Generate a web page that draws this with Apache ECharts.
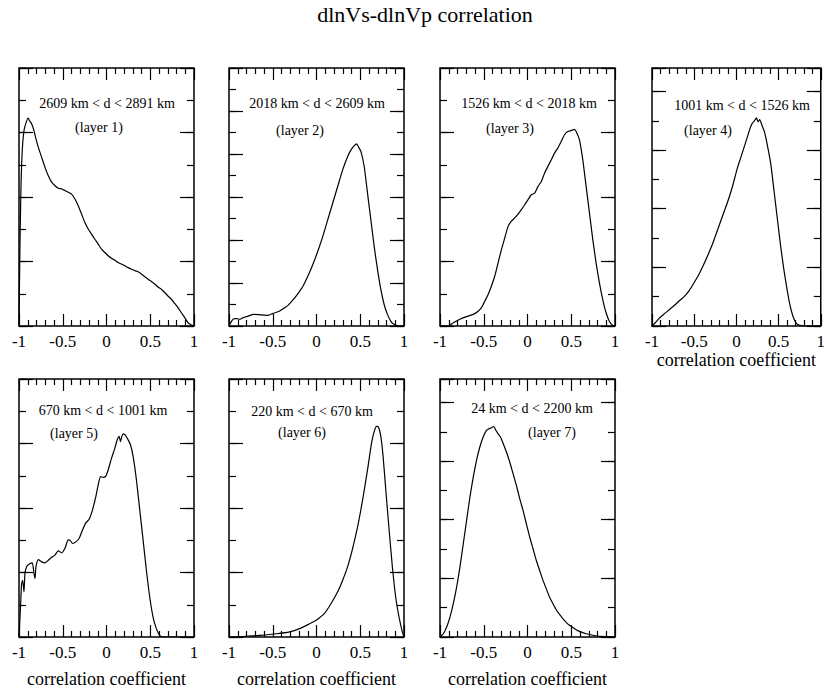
<!DOCTYPE html>
<html>
<head>
<meta charset="utf-8">
<script src="https://cdn.jsdelivr.net/npm/echarts@6/dist/echarts.min.js"></script>
<style>
  html, body { margin: 0; padding: 0; background: #fff; }
  #chart { width: 828px; height: 691px; }
</style>
</head>
<body>
<div id="chart"></div>
<script>
// Distribution of the dlnVs-dlnVp correlation coefficient, one curve per depth layer.
// Each point: [correlation coefficient, relative frequency (arbitrary units)].
const layer1 = [[-1,0],[-0.989,2.49],[-0.977,4.35],[-0.962,5.49],[-0.943,6.06],[-0.92,6.3],[-0.894,6.45],[-0.882,6.37],[-0.867,6.32],[-0.848,6.22],[-0.829,6.06],[-0.806,5.8],[-0.779,5.54],[-0.741,5.23],[-0.703,4.92],[-0.665,4.66],[-0.627,4.46],[-0.589,4.35],[-0.551,4.27],[-0.513,4.25],[-0.475,4.2],[-0.437,4.15],[-0.399,4.09],[-0.361,3.94],[-0.323,3.73],[-0.285,3.47],[-0.247,3.21],[-0.209,3.01],[-0.171,2.85],[-0.133,2.69],[-0.095,2.54],[-0.057,2.38],[-0.019,2.28],[0.019,2.18],[0.057,2.1],[0.095,2.04],[0.133,1.97],[0.171,1.92],[0.209,1.87],[0.247,1.81],[0.285,1.76],[0.323,1.72],[0.361,1.68],[0.399,1.61],[0.437,1.53],[0.475,1.45],[0.513,1.38],[0.551,1.3],[0.589,1.21],[0.627,1.14],[0.665,1.04],[0.703,0.93],[0.741,0.83],[0.779,0.7],[0.817,0.57],[0.856,0.41],[0.894,0.26],[0.932,0.1],[0.97,0.03],[1,0]];
const layer2 = [[-1,0],[-0.97,0.23],[-0.943,0.34],[-0.913,0.34],[-0.875,0.31],[-0.837,0.39],[-0.78,0.46],[-0.723,0.54],[-0.667,0.53],[-0.61,0.51],[-0.553,0.49],[-0.496,0.59],[-0.439,0.66],[-0.383,0.8],[-0.326,0.96],[-0.269,1.21],[-0.212,1.51],[-0.155,1.85],[-0.098,2.32],[-0.042,2.86],[0.015,3.48],[0.072,4.17],[0.129,4.95],[0.186,5.72],[0.242,6.49],[0.299,7.26],[0.356,7.88],[0.394,8.19],[0.432,8.39],[0.458,8.47],[0.477,8.35],[0.508,8.11],[0.545,7.42],[0.583,6.18],[0.621,4.95],[0.659,3.71],[0.697,2.63],[0.735,1.7],[0.773,1.0],[0.811,0.54],[0.848,0.23],[0.886,0.08],[0.943,0],[1,0]];
const layer3 = [[-1,0],[-0.905,0],[-0.848,0.1],[-0.772,0.21],[-0.696,0.29],[-0.62,0.36],[-0.564,0.46],[-0.526,0.57],[-0.488,0.77],[-0.45,0.98],[-0.412,1.24],[-0.374,1.55],[-0.336,1.96],[-0.298,2.37],[-0.26,2.73],[-0.222,3.09],[-0.184,3.25],[-0.146,3.35],[-0.108,3.47],[-0.07,3.61],[-0.032,3.76],[0.006,3.92],[0.044,4.07],[0.082,4.12],[0.12,4.33],[0.158,4.48],[0.195,4.74],[0.233,4.95],[0.271,5.15],[0.309,5.36],[0.347,5.52],[0.385,5.72],[0.423,5.93],[0.461,6.03],[0.499,6.06],[0.537,6.1],[0.556,6.03],[0.594,5.77],[0.632,5.15],[0.67,4.33],[0.708,3.51],[0.746,2.68],[0.784,1.96],[0.822,1.34],[0.86,0.82],[0.898,0.41],[0.935,0.15],[0.973,0.02],[1,0]];
const layer4 = [[-1,0],[-0.962,0.11],[-0.905,0.29],[-0.848,0.43],[-0.79,0.57],[-0.733,0.71],[-0.676,0.86],[-0.619,1.0],[-0.562,1.2],[-0.505,1.46],[-0.448,1.74],[-0.39,2.08],[-0.333,2.45],[-0.276,2.85],[-0.219,3.31],[-0.162,3.77],[-0.105,4.22],[-0.048,4.74],[0.01,5.37],[0.048,5.71],[0.086,6.05],[0.124,6.39],[0.162,6.74],[0.188,6.91],[0.219,7.02],[0.238,7.1],[0.257,6.96],[0.276,7.04],[0.303,6.85],[0.333,6.62],[0.371,6.11],[0.41,5.48],[0.448,4.57],[0.486,3.65],[0.524,2.74],[0.562,1.94],[0.6,1.26],[0.638,0.68],[0.676,0.29],[0.714,0.08],[0.752,0.02],[0.81,0],[1,0]];
const layer5 = [[-1,0],[-0.981,1.04],[-0.97,1.66],[-0.958,1.76],[-0.943,1.4],[-0.932,1.97],[-0.913,2.18],[-0.882,2.26],[-0.848,2.3],[-0.829,1.97],[-0.817,1.81],[-0.806,2.18],[-0.779,2.4],[-0.741,2.33],[-0.703,2.3],[-0.665,2.38],[-0.627,2.47],[-0.589,2.54],[-0.551,2.67],[-0.513,2.61],[-0.475,2.75],[-0.437,3.01],[-0.411,2.98],[-0.388,2.9],[-0.35,2.95],[-0.312,3.06],[-0.274,3.32],[-0.236,3.54],[-0.198,3.65],[-0.16,3.94],[-0.122,4.35],[-0.095,4.72],[-0.068,4.97],[-0.038,4.95],[-0.008,4.99],[0.019,5.18],[0.057,5.54],[0.095,5.85],[0.122,6.11],[0.144,6.22],[0.16,6.06],[0.175,6.22],[0.19,6.3],[0.213,6.27],[0.236,6.17],[0.274,5.96],[0.304,5.6],[0.342,4.87],[0.38,3.94],[0.418,3.01],[0.456,2.07],[0.494,1.24],[0.532,0.62],[0.57,0.26],[0.608,0.05],[0.646,0],[1,0]];
const layer6 = [[-1,0],[-0.837,0.01],[-0.648,0.05],[-0.458,0.1],[-0.307,0.16],[-0.193,0.26],[-0.08,0.41],[-0.004,0.52],[0.091,0.73],[0.167,1.04],[0.242,1.4],[0.299,1.76],[0.356,2.18],[0.413,2.75],[0.47,3.42],[0.527,4.25],[0.583,5.18],[0.629,6.01],[0.659,6.37],[0.686,6.53],[0.708,6.51],[0.735,6.22],[0.761,5.6],[0.792,4.56],[0.83,3.32],[0.867,2.18],[0.905,1.24],[0.943,0.62],[0.981,0.16],[1,0]];
const layer7 = [[-1,0],[-0.962,0.11],[-0.924,0.34],[-0.886,0.68],[-0.848,1.14],[-0.81,1.7],[-0.772,2.39],[-0.734,3.18],[-0.696,3.98],[-0.658,4.77],[-0.62,5.45],[-0.583,6.02],[-0.545,6.48],[-0.507,6.82],[-0.469,7.05],[-0.442,7.1],[-0.412,7.14],[-0.385,7.18],[-0.362,7.05],[-0.336,6.93],[-0.309,6.82],[-0.279,6.61],[-0.241,6.31],[-0.203,5.97],[-0.165,5.57],[-0.127,5.17],[-0.089,4.72],[-0.051,4.32],[-0.013,3.86],[0.025,3.41],[0.063,3.01],[0.101,2.61],[0.139,2.27],[0.177,1.93],[0.214,1.65],[0.252,1.36],[0.29,1.14],[0.328,0.93],[0.366,0.77],[0.404,0.63],[0.442,0.5],[0.48,0.4],[0.518,0.32],[0.556,0.25],[0.594,0.19],[0.67,0.11],[0.746,0.06],[0.822,0.02],[0.898,0.01],[1,0]];

const layerCurves = [layer1, layer2, layer3, layer4, layer5, layer6, layer7];
const depthRanges = [
  '2609 km < d < 2891 km', '2018 km < d < 2609 km', '1526 km < d < 2018 km',
  '1001 km < d < 1526 km', '670 km < d < 1001 km', '220 km < d < 670 km',
  '24 km < d < 2200 km'
];
const layerNames = ['(layer 1)', '(layer 2)', '(layer 3)', '(layer 4)', '(layer 5)', '(layer 6)', '(layer 7)'];
const yTop = [8, 12, 8, 8.8, 8, 8, 8.8];
const showAxisName = [false, false, false, true, true, true, true];
const chartTitle = 'dlnVs-dlnVp correlation';
const xAxisName = 'correlation coefficient';

// Layout of the panels (pixels)
const FONT = 'Liberation Serif, Times New Roman, serif';
const panelW = 175, panelH = 258;
const panelBoxes = [
  { left: 19, top: 68 }, { left: 229, top: 68 }, { left: 440, top: 68 }, { left: 652, top: 68 },
  { left: 19, top: 379 }, { left: 229, top: 379 }, { left: 440, top: 379 }
];
// Text placement inside each panel, offsets from the panel's top-left corner
const rangeLabelPos = [[88, 35], [88, 35], [89, 35], [90, 37], [84, 31], [83, 32], [92, 29]];
const layerLabelPos = [[80, 59], [71, 62], [70, 60], [56, 62], [55, 54], [73, 53], [112, 53]];
const nameGaps = [0, 0, 0, 20, 33, 33, 33];

const chart = echarts.init(document.getElementById('chart'), null, { renderer: 'svg' });

const grid = [], xAxis = [], yAxis = [], series = [], graphic = [];
const tickStyle = { color: '#000', width: 1.2 };

panelBoxes.forEach((box, i) => {
  grid.push({
    left: box.left, top: box.top, width: panelW, height: panelH,
    show: true, borderColor: '#000', borderWidth: 1.5, backgroundColor: 'transparent'
  });

  // bottom and top frames carry the same tick marks; only the bottom one is labelled
  const xBase = {
    gridIndex: i, type: 'value', min: -1, max: 1, interval: 0.5,
    axisLine: { show: false, onZero: false },
    splitLine: { show: false },
    axisTick: { show: true, inside: true, length: 12, lineStyle: tickStyle },
    minorTick: { show: true, splitNumber: 5, length: 6, lineStyle: tickStyle }
  };
  xAxis.push(Object.assign({}, xBase, {
    position: 'bottom',
    axisLabel: { show: true, margin: 7, color: '#000', fontFamily: FONT, fontSize: 17 },
    name: showAxisName[i] ? xAxisName : '',
    nameLocation: 'middle', nameGap: nameGaps[i],
    nameTextStyle: { color: '#000', fontFamily: FONT, fontSize: 18 }
  }));
  xAxis.push(Object.assign({}, xBase, { position: 'top', axisLabel: { show: false } }));

  // left and right frames: long ticks every 2 units, short ticks every unit
  const yTicks = (pos, interval, len) => ({
    gridIndex: i, type: 'value', min: 0, max: yTop[i], interval: interval, position: pos,
    axisLine: { show: false, onZero: false }, splitLine: { show: false }, axisLabel: { show: false },
    axisTick: { show: true, inside: true, length: len, lineStyle: tickStyle }
  });
  const yStart = yAxis.length;
  yAxis.push(yTicks('left', 2, 14), yTicks('left', 1, 7), yTicks('right', 2, 14), yTicks('right', 1, 7));

  series.push({
    type: 'line',
    xAxisIndex: i * 2,
    yAxisIndex: yStart,
    data: layerCurves[i],
    showSymbol: false,
    smooth: 0.2,
    lineStyle: { color: '#000', width: 1.2 },
    silent: true,
    animation: false
  });

  graphic.push({
    type: 'text', x: box.left + rangeLabelPos[i][0], y: box.top + rangeLabelPos[i][1],
    style: { text: depthRanges[i], fill: '#000', font: '14px ' + FONT, textAlign: 'center', textVerticalAlign: 'middle' }
  });
  graphic.push({
    type: 'text', x: box.left + layerLabelPos[i][0], y: box.top + layerLabelPos[i][1],
    style: { text: layerNames[i], fill: '#000', font: '14px ' + FONT, textAlign: 'center', textVerticalAlign: 'middle' }
  });
});

chart.setOption({
  backgroundColor: '#fff',
  animation: false,
  textStyle: { fontFamily: FONT, color: '#000' },
  title: {
    text: chartTitle, left: 420, top: -2, textAlign: 'center',
    textStyle: { color: '#000', fontFamily: FONT, fontSize: 22, fontWeight: 'normal' }
  },
  grid, xAxis, yAxis, series, graphic
});
</script>
</body>
</html>
